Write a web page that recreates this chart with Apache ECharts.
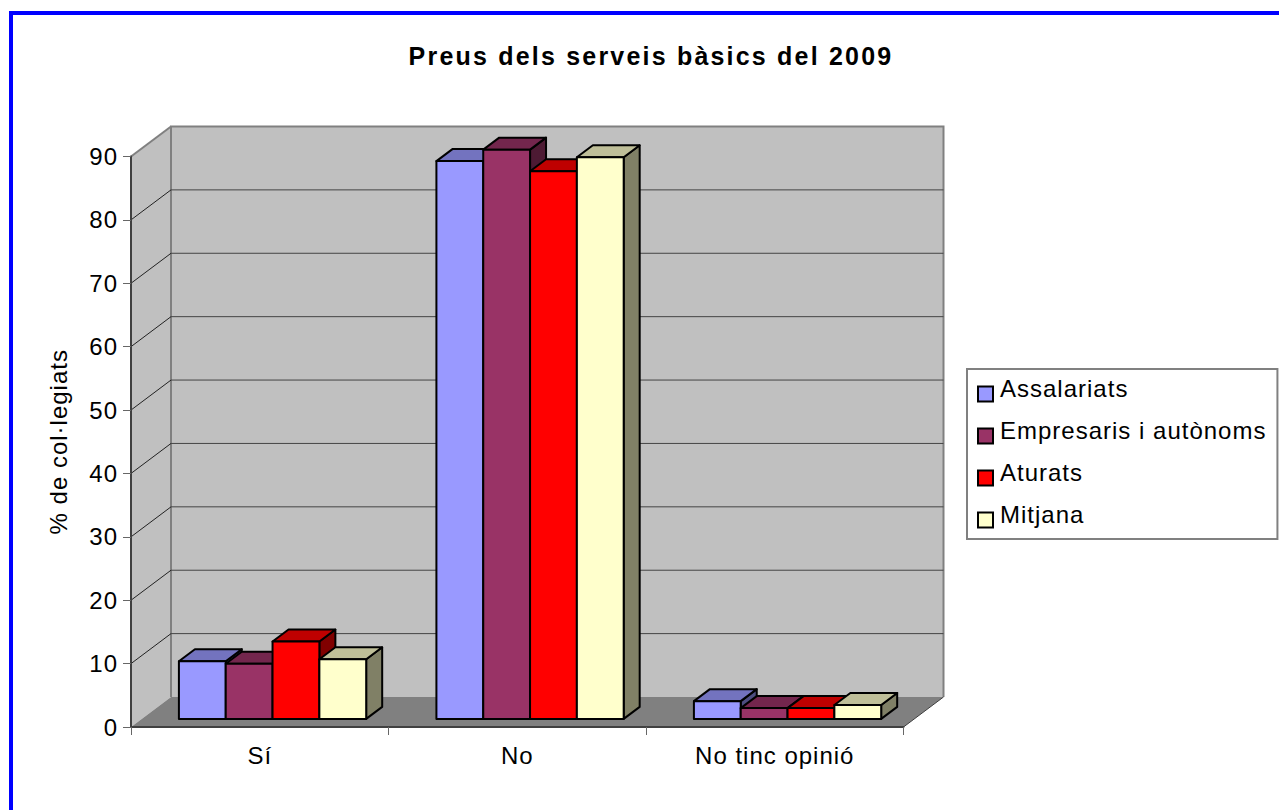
<!DOCTYPE html>
<html lang="ca" style="height: 100%">
<head>
	<meta charset="utf-8">
	<title>Preus dels serveis bàsics del 2009</title>
	<style>
		/* the original has wide hinted text */
		#container text { letter-spacing: 1px; }
		#container text[style*="bold"] { letter-spacing: 2.2px; }
	</style>
</head>
<body style="height: 100%; margin: 0; background: #fff">
<div id="frame" style="position: absolute; left: 9px; top: 11px; right: 0; bottom: 0; border-left: 4px solid #0000ff; border-top: 4px solid #0000ff"></div>
<div id="container" style="position: absolute; left: 0; top: 0; width: 1279px; height: 810px"></div>

<script type="text/javascript" src="https://fastly.jsdelivr.net/npm/echarts@6/dist/echarts.min.js"></script>

<script type="text/javascript">
	var categories = ['Sí', 'No', 'No tinc opinió'];
	var seriesNames = ['Assalariats', 'Empresaris i autònoms', 'Aturats', 'Mitjana'];
	var assalariats = [9.1, 88.0, 2.8];
	var empresaris = [8.7, 89.8, 1.7];
	var aturats = [12.2, 86.4, 1.7];
	var mitjana = [9.4, 88.6, 2.2];
	var yTicks = [0, 10, 20, 30, 40, 50, 60, 70, 80, 90];

	var frontColors = ['#9999ff', '#993366', '#ff0000', '#ffffcc'];
	var topColors = ['#7373bf', '#73264d', '#bf0000', '#bfbf99'];
	var sideColors = ['#4d4d80', '#4d1a33', '#800000', '#808066'];

	// depth of the fake 3d box, in pixels
	var depthX = 40;
	var depthY = 30;
	// where the bars stand inside that depth, as fractions
	var barFrontX = 0.32;
	var barFrontY = 0.27;
	var barDepth = 0.4;
	var gapWidth = 1.5;

	var dom = document.getElementById('container');
	var myChart = echarts.init(dom, null, {
		renderer: 'svg'
	});

	function renderWalls(params, api) {
		var cs = params.coordSys;
		var x0 = cs.x, x1 = cs.x + cs.width;
		var y0 = cs.y + cs.height, y1 = cs.y;
		var wallLine = { stroke: '#808080', lineWidth: 2, fill: 'none' };
		return {
			type: 'group',
			children: [
				{ type: 'polygon', shape: { points: [[x0, y0], [x0, y1], [x0 + depthX, y1 - depthY], [x0 + depthX, y0 - depthY]] }, style: { fill: '#c0c0c0' } },
				{ type: 'rect', shape: { x: x0 + depthX, y: y1 - depthY, width: cs.width, height: cs.height }, style: { fill: '#c0c0c0' } },
				{ type: 'polygon', shape: { points: [[x0, y0], [x1, y0], [x1 + depthX, y0 - depthY], [x0 + depthX, y0 - depthY]] }, style: { fill: '#808080' } },
				{ type: 'polyline', shape: { points: [[x0 + depthX, y0 - depthY], [x0 + depthX, y1 - depthY], [x1 + depthX, y1 - depthY], [x1 + depthX, y0 - depthY]] }, style: wallLine },
				{ type: 'line', shape: { x1: x0, y1: y1, x2: x0 + depthX, y2: y1 - depthY }, style: wallLine },
				{ type: 'line', shape: { x1: x1, y1: y0, x2: x1 + depthX, y2: y0 - depthY }, style: { stroke: '#404040', lineWidth: 1 } }
			]
		};
	}

	function renderGridLine(params, api) {
		var v = api.value(1);
		if (v === 0 || v === 90) {
			return;
		}
		var cs = params.coordSys;
		var y = api.coord([0, v])[1];
		return {
			type: 'group',
			children: [
				{ type: 'line', shape: { x1: cs.x, y1: y, x2: cs.x + depthX, y2: y - depthY }, style: { stroke: '#222', lineWidth: 1 } },
				{ type: 'line', shape: { x1: cs.x + depthX, y1: y - depthY, x2: cs.x + cs.width + depthX, y2: y - depthY }, style: { stroke: '#444', lineWidth: 1 } }
			]
		};
	}

	function makeBarRenderer(idx) {
		return function (params, api) {
			var base = api.coord([api.value(0), 0]);
			var top = api.coord([api.value(0), api.value(1)]);
			var band = api.size([1, 0])[0];
			var barW = band / (seriesNames.length + gapWidth);
			var dx = barDepth * depthX, dy = barDepth * depthY;
			var left = base[0] - band / 2 + barW * gapWidth / 2 + barW * idx + barFrontX * depthX;
			var right = left + barW;
			var yb = base[1] - barFrontY * depthY;
			var yt = top[1] - barFrontY * depthY;
			var line = { stroke: '#000', lineWidth: 2, lineJoin: 'round' };
			return {
				type: 'group',
				children: [
					{ type: 'polygon', shape: { points: [[right, yb], [right, yt], [right + dx, yt - dy], [right + dx, yb - dy]] }, style: Object.assign({ fill: sideColors[idx] }, line) },
					{ type: 'polygon', shape: { points: [[left, yt], [right, yt], [right + dx, yt - dy], [left + dx, yt - dy]] }, style: Object.assign({ fill: topColors[idx] }, line) },
					{ type: 'rect', shape: { x: left, y: yt, width: barW, height: yb - yt }, style: Object.assign({ fill: frontColors[idx] }, line) }
				]
			};
		};
	}

	function barSeries(idx, values) {
		return {
			name: seriesNames[idx],
			type: 'custom',
			z: 3,
			clip: false,
			renderItem: makeBarRenderer(idx),
			itemStyle: { color: frontColors[idx] },
			encode: { x: 0, y: 1 },
			data: values.map(function (v, i) { return [i, v]; })
		};
	}

	var option = {
		animation: false,
		backgroundColor: 'transparent',
		textStyle: { fontFamily: '"Liberation Sans", Arial, sans-serif', color: '#000' },
		title: {
			text: 'Preus dels serveis bàsics del 2009',
			left: 646,
			textAlign: 'center',
			top: 38,
			textStyle: {
				fontFamily: '"Liberation Sans", Arial, sans-serif',
				fontSize: 25,
				fontWeight: 'bold',
				color: '#000'
			}
		},
		legend: {
			orient: 'vertical',
			left: 967,
			top: 369,
			padding: [7, 32, 10.5, 10],
			itemWidth: 15,
			itemHeight: 15,
			itemGap: 15.5,
			icon: 'rect',
			backgroundColor: '#fff',
			borderColor: '#808080',
			borderWidth: 2,
			itemStyle: { borderColor: '#000', borderWidth: 2 },
			// the labels sit a little higher than their swatches
			formatter: '{t|{name}}',
			textStyle: {
				fontFamily: '"Liberation Sans", Arial, sans-serif',
				fontSize: 24,
				color: '#000',
				rich: {
					t: {
						fontFamily: '"Liberation Sans", Arial, sans-serif',
						fontSize: 24,
						color: '#000',
						padding: [0, 0, 12, 2]
					}
				}
			},
			data: seriesNames
		},
		grid: {
			left: 131,
			top: 156.5,
			width: 772.5,
			height: 570.5,
			containLabel: false
		},
		xAxis: {
			type: 'category',
			data: categories,
			z: 5,
			axisLine: { lineStyle: { color: '#404040', width: 2 } },
			axisTick: { show: true, length: 8, alignWithLabel: false, lineStyle: { color: '#666', width: 1 } },
			axisLabel: { fontSize: 24, color: '#000', margin: 16 }
		},
		yAxis: {
			type: 'value',
			min: 0,
			max: 90,
			interval: 10,
			z: 5,
			name: '% de col·legiats',
			nameLocation: 'middle',
			nameRotate: 90,
			nameGap: 61,
			nameTextStyle: { fontSize: 24, color: '#000' },
			axisLine: { show: true, lineStyle: { color: '#404040', width: 2 } },
			axisTick: { show: true, length: 8, lineStyle: { color: '#666', width: 1 } },
			axisLabel: { fontSize: 24, color: '#000', margin: 13 },
			splitLine: { show: false }
		},
		series: [
			{
				type: 'custom',
				z: 1,
				silent: true,
				clip: false,
				renderItem: renderWalls,
				encode: { x: 0, y: 1 },
				data: [[0, 0]]
			},
			{
				type: 'custom',
				z: 2,
				silent: true,
				clip: false,
				renderItem: renderGridLine,
				encode: { x: 0, y: 1 },
				data: yTicks.map(function (t) { return [0, t]; })
			},
			barSeries(0, assalariats),
			barSeries(1, empresaris),
			barSeries(2, aturats),
			barSeries(3, mitjana)
		]
	};

	myChart.setOption(option);
	window.addEventListener('resize', myChart.resize);
</script>
</body>
</html>
